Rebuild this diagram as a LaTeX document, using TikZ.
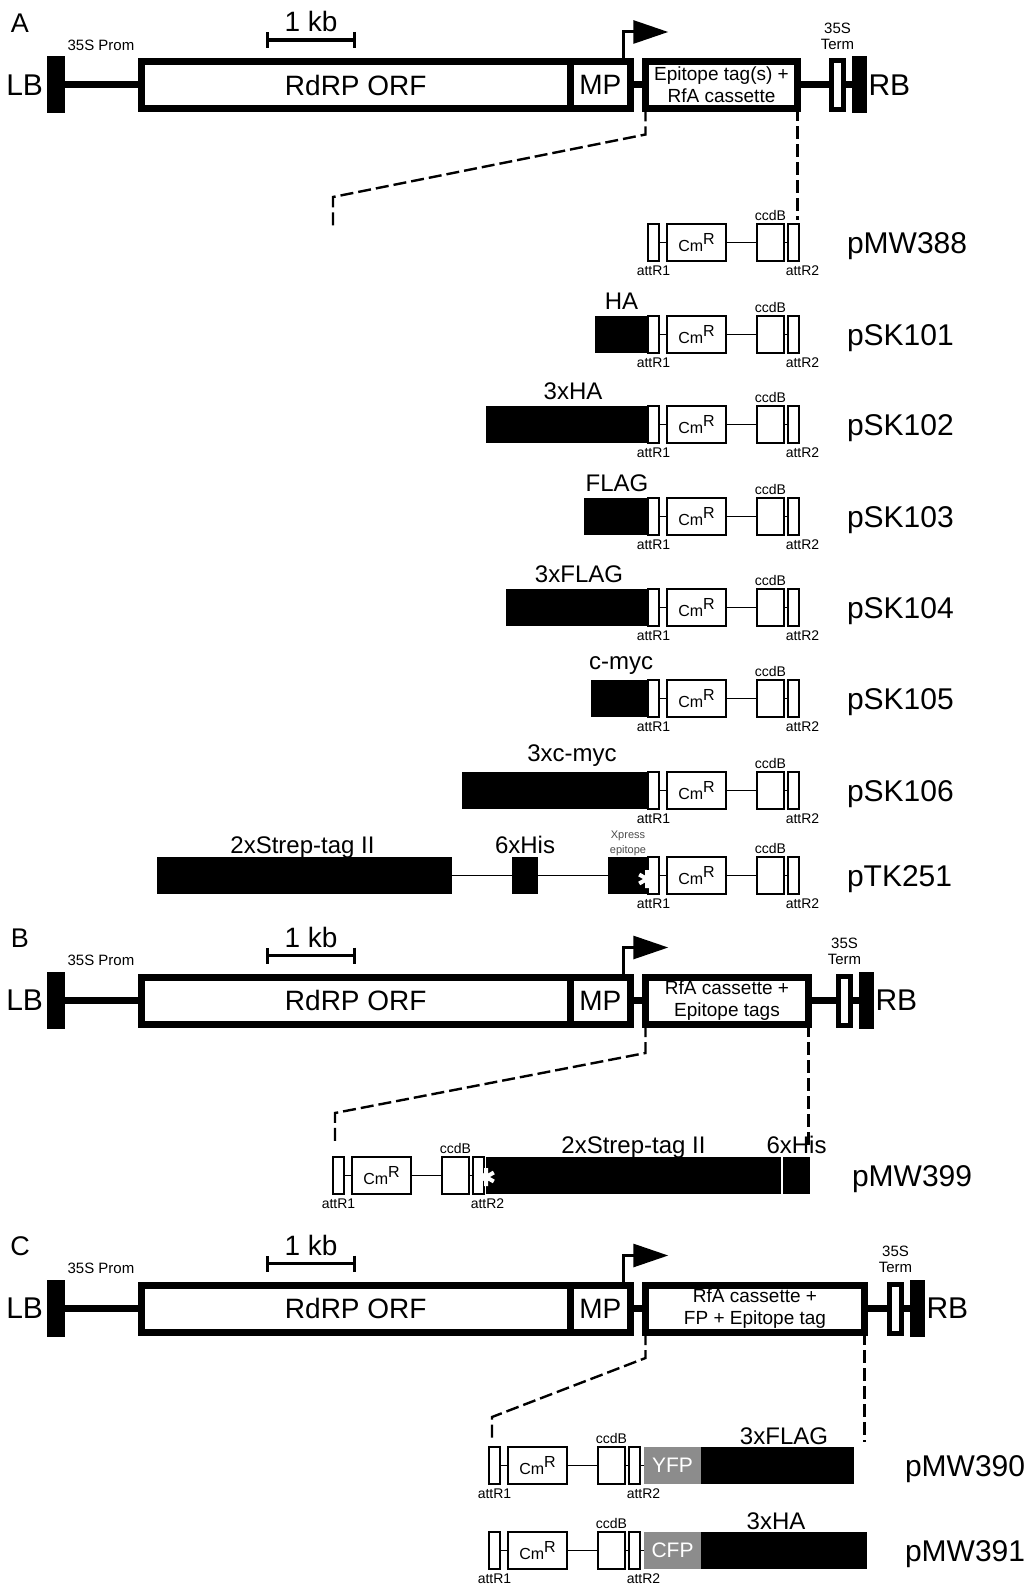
\documentclass[tikz,border=0pt]{standalone}
\usepackage{fontspec}
\setmainfont{Liberation Sans}
\usetikzlibrary{arrows.meta,positioning}
\definecolor{fpgray}{gray}{0.55}

\begin{document}
\begin{tikzpicture}[
    x=0.5pt, y=-0.5pt,
    every node/.style={inner sep=0pt, outer sep=0pt},
    backbone/.style={line width=3.5pt},
    orfbox/.style={draw, line width=3.5pt, minimum height=23.5pt, font=\fontsize{14}{16}\selectfont},
    termbox/.style={draw, line width=2.5pt, minimum width=6pt, minimum height=24.5pt},
    endbar/.style={fill=black, minimum height=28.5pt},
    endtext/.style={font=\fontsize{15}{18}\selectfont},
    letter/.style={font=\fontsize{13.5}{16}\selectfont},
    kbtext/.style={font=\fontsize{14}{16}\selectfont},
    smalltext/.style={font=\fontsize{7.5}{8}\selectfont, align=center},
    kbbar/.style={line width=1.6pt, arrows={Bar[width=8pt]-Bar[width=8pt]}},
    promoter/.style={line width=1.5pt, -{Triangle[length=17.5pt,width=11.5pt]}},
    zoomline/.style={line width=1.2pt, dash pattern=on 6.5pt off 2.5pt},
    attbox/.style={draw, line width=0.6pt, minimum width=5.5pt, minimum height=18.5pt},
    cmbox/.style={draw, line width=0.6pt, minimum width=29.5pt, minimum height=18.5pt,
      font=\fontsize{8}{9}\selectfont},
    ccdbox/.style={draw, line width=0.6pt, minimum width=13.5pt, minimum height=18.5pt},
    link/.style={line width=0.8pt},
    tagbox/.style={fill=black, minimum height=18.5pt},
    fpbox/.style={fill=fpgray, minimum width=28.5pt, minimum height=18.5pt, text=white,
      font=\fontsize{10.5}{12}\selectfont},
    tinytext/.style={font=\fontsize{7}{8}\selectfont},
    xptext/.style={font=\fontsize{5.5}{7.5}\selectfont, align=center, text=black!70},
    taglabel/.style={font=\fontsize{12}{14}\selectfont, anchor=base},
    plasmid/.style={font=\fontsize{15}{18}\selectfont, anchor=west, yshift=-1.6pt},
    asterisk/.style={white, line width=2pt}
  ]
  \useasboundingbox (0,0) rectangle (1034,1593);

  % vector backbones A, B, C
  \foreach \p/\yc/\cw/\tg/\cas in {A/85/76pt/17pt/{Epitope tag(s) +\\RfA cassette},
      B/1000.5/81.5pt/15pt/{RfA cassette +\\Epitope tags},
      C/1308.5/109.5pt/12.5pt/{RfA cassette +\\FP + Epitope tag}} {
    \node[letter] (let\p) at (20,\yc-62) {\p};
    \node[endbar, minimum width=9pt] (lb\p) at (56,\yc) {};
    \node[endtext, left=2pt of lb\p] (lbt\p) {LB};
    \node[orfbox, anchor=west, minimum width=214.25pt] (rdrp\p) at (141.5,\yc) {RdRP ORF};
    \node[orfbox, right=0pt of rdrp\p, minimum width=30.25pt] (mp\p) {MP};
    \node[orfbox, right=7.5pt of mp\p, minimum width=\cw, align=center,
      font=\fontsize{9.5}{11}\selectfont] (cas\p) {\cas};
    \node[termbox, right=\tg of cas\p] (term\p) {};
    \node[endbar, right=4pt of term\p, minimum width=7.5pt] (rb\p) {};
    \node[endtext, right=1pt of rb\p] (rbt\p) {RB};
    \node[smalltext, above=5.5pt of term\p] (tlab\p) {35S\\Term};
    \node[smalltext] (plab\p) at (101,\yc-40) {35S Prom};
    \node[kbtext] (kb\p) at (311,\yc-63) {1 kb};
    \draw[kbbar] (266,\yc-45) -- (356,\yc-45);
    \draw[backbone] (lb\p) -- (rdrp\p);
    \draw[backbone] (mp\p) -- (cas\p);
    \draw[backbone] (cas\p) -- (term\p);
    \draw[backbone] (term\p) -- (rb\p);
    \draw[promoter] ([xshift=11.5pt]mp\p.north) |- ++(22.5pt,14.75pt);
  }

  % RfA cassettes
  \foreach \r/\x/\y in {388/648/224, 101/648/316, 102/648/406, 103/648/498, 104/648/589,
      105/648/680, 106/648/772, 251/648/857, 399/333/1157, 390/489/1447, 391/489/1532} {
    \node[attbox, anchor=north west] (a1-\r) at (\x,\y) {};
    \node[cmbox, right=4pt of a1-\r] (cm-\r) {Cm\raisebox{0.75ex}{R}};
    \node[ccdbox, right=15.5pt of cm-\r] (cc-\r) {};
    \node[attbox, right=2pt of cc-\r] (a2-\r) {};
    \draw[link] (a1-\r) -- (cm-\r);
    \draw[link] (cm-\r) -- (cc-\r);
    \draw[link] (cc-\r) -- (a2-\r);
    \node[tinytext, above=1.5pt of cc-\r] (ccl-\r) {ccdB};
    \node[tinytext, below=2.5pt of a1-\r] (a1l-\r) {attR1};
    \node[tinytext, below=2.5pt of a2-\r, xshift=4.5pt] (a2l-\r) {attR2};
  }

  \foreach \r/\w/\tag/\dx in {101/26.5pt/HA/0pt, 102/81pt/3xHA/3pt, 103/32pt/FLAG/0.5pt,
      104/71pt/3xFLAG/1pt, 105/28.5pt/c-myc/0.75pt, 106/93pt/3xc-myc/8.5pt} {
    \node[tagbox, left=0pt of a1-\r, minimum width=\w] (tag-\r) {};
    \node[above=3pt of tag-\r, taglabel, anchor=south, xshift=\dx] (tagl-\r) {\tag};
  }

  % pTK251
  \node[tagbox, anchor=north west, minimum width=147.5pt] (strep-251) at (157,857) {};
  \node[tagbox, right=30pt of strep-251, minimum width=13pt] (his-251) {};
  \node[tagbox, left=0pt of a1-251, minimum width=20pt] (xp-251) {};
  \draw[link] (strep-251) -- (his-251);
  \draw[link] (his-251) -- (xp-251);
  \node[above=2pt of strep-251, taglabel, xshift=-1pt] (strepl-251) {2xStrep-tag II};
  \node[above=2pt of his-251, taglabel] (hisl-251) {6xHis};
  \node[above=0.5pt of xp-251, xptext] (xpl-251) {Xpress\\epitope};

  % pMW399
  \node[tagbox, right=1pt of a2-399, minimum width=147.5pt] (strep-399) {};
  \node[tagbox, right=1pt of strep-399, minimum width=13.5pt] (his-399) {};
  \draw[link] (a2-399) -- (strep-399);
  \node[above=2pt of strep-399, taglabel] (strepl-399) {2xStrep-tag II};
  \node[above=2pt of his-399, taglabel] (hisl-399) {6xHis};

  % pMW390, pMW391
  \foreach \r/\fp/\w/\tag/\dx in {390/YFP/76.5pt/3xFLAG/3.25pt, 391/CFP/83pt/3xHA/-4pt} {
    \node[fpbox, right=2pt of a2-\r] (fp-\r) {\fp};
    \node[tagbox, right=0pt of fp-\r, minimum width=\w] (tag-\r) {};
    \draw[link] (a2-\r) -- (fp-\r);
    \node[above=1.5pt of tag-\r, taglabel, xshift=\dx] (tagl-\r) {\tag};
  }

  \coordinate (ast-251) at (647,879);
  \coordinate (ast-399) at (486,1177);
  \foreach \c in {ast-251, ast-399}
    \draw[asterisk] (\c) +(90:9) -- +(270:9) (\c) +(30:9) -- +(210:9) (\c) +(150:9) -- +(330:9);

  \foreach \r/\x/\y/\txt in {388/847/242.5/pMW388, 101/847/334.5/pSK101, 102/847/424.5/pSK102,
      103/847/516.5/pSK103, 104/847/607.5/pSK104, 105/847/698.5/pSK105, 106/847/790.5/pSK106,
      251/847/875.5/pTK251, 399/852/1175.5/pMW399, 390/905/1465.5/pMW390, 391/905/1550.5/pMW391}
    \node[plasmid] (name-\r) at (\x,\y) {\txt};

  % zoom lines
  \coordinate (kneeA) at (333,197);
  \coordinate (endA) at (333,228);
  \coordinate (kneeB) at (335,1113);
  \coordinate (endB) at (335,1142);
  \coordinate (kneeC) at (492,1417);
  \coordinate (endC) at (492,1438);
  \draw[zoomline] (casA.south west) -- ++(0,26) -- (kneeA) -- (endA);
  \draw[zoomline, shorten >=2pt] (casA.south east) -- (casA.south east |- a2-388.north);
  \draw[zoomline] (casB.south west) -- ++(0,29) -- (kneeB) -- (endB);
  \draw[zoomline, shorten >=5pt] (casB.south east) -- (casB.south east |- his-399.north);
  \draw[zoomline] (casC.south west) -- ++(0,26) -- (kneeC) -- (endC);
  \draw[zoomline, shorten >=2.5pt] (casC.south east) -- (casC.south east |- tag-390.north);
\end{tikzpicture}
\end{document}
